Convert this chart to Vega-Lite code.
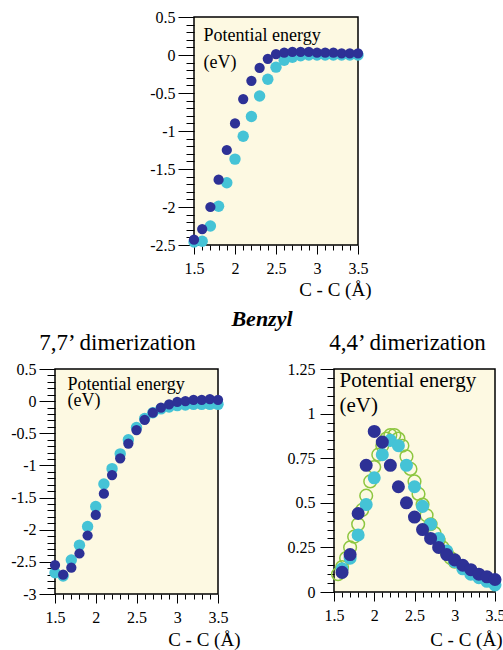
{
  "$schema": "https://vega.github.io/schema/vega-lite/v6.json",
  "padding": {"left": 9, "top": 8, "right": 0, "bottom": 0},
  "background": "white",
  "spacing": 0,
  "config": {
    "font": "Liberation Serif",
    "view": {"stroke": "black", "strokeWidth": 1.5, "fill": "#fdf9e2"},
    "axis": {
      "domain": false,
      "grid": false,
      "tickColor": "black",
      "tickWidth": 1,
      "labelColor": "black",
      "labelFont": "Liberation Serif",
      "labelFontSize": 16,
      "labelOverlap": false,
      "labelBound": false,
      "labelFlush": false,
      "titleColor": "black",
      "titleFont": "Liberation Serif",
      "titleFontWeight": "normal"
    },
    "title": {"font": "Liberation Serif", "color": "black", "fontWeight": "normal", "fontSize": 23}
  },
  "datasets": {
    "top": [
      {"x": 1.5, "y": -2.46, "s": "cyan"}, {"x": 1.6, "y": -2.45, "s": "cyan"}, {"x": 1.7, "y": -2.25, "s": "cyan"},
      {"x": 1.8, "y": -1.99, "s": "cyan"}, {"x": 1.9, "y": -1.68, "s": "cyan"}, {"x": 2.0, "y": -1.37, "s": "cyan"},
      {"x": 2.1, "y": -1.07, "s": "cyan"}, {"x": 2.2, "y": -0.81, "s": "cyan"}, {"x": 2.3, "y": -0.54, "s": "cyan"},
      {"x": 2.4, "y": -0.32, "s": "cyan"}, {"x": 2.5, "y": -0.16, "s": "cyan"}, {"x": 2.6, "y": -0.07, "s": "cyan"},
      {"x": 2.7, "y": -0.03, "s": "cyan"}, {"x": 2.8, "y": -0.01, "s": "cyan"}, {"x": 2.9, "y": 0.0, "s": "cyan"},
      {"x": 3.0, "y": 0.0, "s": "cyan"}, {"x": 3.1, "y": 0.0, "s": "cyan"}, {"x": 3.2, "y": 0.0, "s": "cyan"},
      {"x": 3.3, "y": 0.0, "s": "cyan"}, {"x": 3.4, "y": 0.0, "s": "cyan"}, {"x": 3.5, "y": 0.0, "s": "cyan"},
      {"x": 1.5, "y": -2.43, "s": "dark"}, {"x": 1.6, "y": -2.29, "s": "dark"}, {"x": 1.7, "y": -2.0, "s": "dark"},
      {"x": 1.8, "y": -1.64, "s": "dark"}, {"x": 1.9, "y": -1.25, "s": "dark"}, {"x": 2.0, "y": -0.9, "s": "dark"},
      {"x": 2.1, "y": -0.58, "s": "dark"}, {"x": 2.2, "y": -0.34, "s": "dark"}, {"x": 2.3, "y": -0.17, "s": "dark"},
      {"x": 2.4, "y": -0.05, "s": "dark"}, {"x": 2.5, "y": 0.01, "s": "dark"}, {"x": 2.6, "y": 0.03, "s": "dark"},
      {"x": 2.7, "y": 0.04, "s": "dark"}, {"x": 2.8, "y": 0.04, "s": "dark"}, {"x": 2.9, "y": 0.04, "s": "dark"},
      {"x": 3.0, "y": 0.03, "s": "dark"}, {"x": 3.1, "y": 0.03, "s": "dark"}, {"x": 3.2, "y": 0.03, "s": "dark"},
      {"x": 3.3, "y": 0.02, "s": "dark"}, {"x": 3.4, "y": 0.02, "s": "dark"}, {"x": 3.5, "y": 0.02, "s": "dark"}
    ],
    "left": [
      {"x": 1.5, "y": -2.67, "s": "cyan"}, {"x": 1.6, "y": -2.72, "s": "cyan"}, {"x": 1.7, "y": -2.47, "s": "cyan"},
      {"x": 1.8, "y": -2.24, "s": "cyan"}, {"x": 1.9, "y": -1.95, "s": "cyan"}, {"x": 2.0, "y": -1.64, "s": "cyan"},
      {"x": 2.1, "y": -1.29, "s": "cyan"}, {"x": 2.2, "y": -1.05, "s": "cyan"}, {"x": 2.3, "y": -0.82, "s": "cyan"},
      {"x": 2.4, "y": -0.6, "s": "cyan"}, {"x": 2.5, "y": -0.41, "s": "cyan"}, {"x": 2.6, "y": -0.27, "s": "cyan"},
      {"x": 2.7, "y": -0.18, "s": "cyan"}, {"x": 2.8, "y": -0.12, "s": "cyan"}, {"x": 2.9, "y": -0.09, "s": "cyan"},
      {"x": 3.0, "y": -0.07, "s": "cyan"}, {"x": 3.1, "y": -0.06, "s": "cyan"}, {"x": 3.2, "y": -0.05, "s": "cyan"},
      {"x": 3.3, "y": -0.05, "s": "cyan"}, {"x": 3.4, "y": -0.05, "s": "cyan"}, {"x": 3.5, "y": -0.05, "s": "cyan"},
      {"x": 1.5, "y": -2.55, "s": "dark"}, {"x": 1.6, "y": -2.7, "s": "dark"}, {"x": 1.7, "y": -2.59, "s": "dark"},
      {"x": 1.8, "y": -2.37, "s": "dark"}, {"x": 1.9, "y": -2.09, "s": "dark"}, {"x": 2.0, "y": -1.77, "s": "dark"},
      {"x": 2.1, "y": -1.44, "s": "dark"}, {"x": 2.2, "y": -1.15, "s": "dark"}, {"x": 2.3, "y": -0.89, "s": "dark"},
      {"x": 2.4, "y": -0.66, "s": "dark"}, {"x": 2.5, "y": -0.45, "s": "dark"}, {"x": 2.6, "y": -0.29, "s": "dark"},
      {"x": 2.7, "y": -0.18, "s": "dark"}, {"x": 2.8, "y": -0.1, "s": "dark"}, {"x": 2.9, "y": -0.05, "s": "dark"},
      {"x": 3.0, "y": -0.01, "s": "dark"}, {"x": 3.1, "y": 0.0, "s": "dark"}, {"x": 3.2, "y": 0.02, "s": "dark"},
      {"x": 3.3, "y": 0.02, "s": "dark"}, {"x": 3.4, "y": 0.03, "s": "dark"}, {"x": 3.5, "y": 0.02, "s": "dark"}
    ],
    "right": [
      {"x": 1.55, "y": 0.1, "s": "green"}, {"x": 1.6, "y": 0.14, "s": "green"}, {"x": 1.65, "y": 0.19, "s": "green"},
      {"x": 1.7, "y": 0.25, "s": "green"}, {"x": 1.75, "y": 0.31, "s": "green"}, {"x": 1.8, "y": 0.38, "s": "green"},
      {"x": 1.85, "y": 0.46, "s": "green"}, {"x": 1.9, "y": 0.54, "s": "green"}, {"x": 1.95, "y": 0.62, "s": "green"},
      {"x": 2.0, "y": 0.7, "s": "green"}, {"x": 2.05, "y": 0.77, "s": "green"}, {"x": 2.1, "y": 0.82, "s": "green"},
      {"x": 2.15, "y": 0.86, "s": "green"}, {"x": 2.2, "y": 0.88, "s": "green"}, {"x": 2.25, "y": 0.88, "s": "green"},
      {"x": 2.3, "y": 0.86, "s": "green"}, {"x": 2.35, "y": 0.82, "s": "green"}, {"x": 2.4, "y": 0.76, "s": "green"},
      {"x": 2.45, "y": 0.69, "s": "green"}, {"x": 2.5, "y": 0.62, "s": "green"}, {"x": 2.55, "y": 0.55, "s": "green"},
      {"x": 2.6, "y": 0.49, "s": "green"}, {"x": 2.65, "y": 0.43, "s": "green"}, {"x": 2.7, "y": 0.38, "s": "green"},
      {"x": 2.75, "y": 0.33, "s": "green"}, {"x": 2.8, "y": 0.29, "s": "green"}, {"x": 2.85, "y": 0.25, "s": "green"},
      {"x": 2.9, "y": 0.22, "s": "green"}, {"x": 2.95, "y": 0.19, "s": "green"}, {"x": 3.0, "y": 0.17, "s": "green"},
      {"x": 1.6, "y": 0.13, "s": "cyan"}, {"x": 1.7, "y": 0.19, "s": "cyan"}, {"x": 1.8, "y": 0.32, "s": "cyan"},
      {"x": 1.9, "y": 0.49, "s": "cyan"}, {"x": 2.0, "y": 0.64, "s": "cyan"}, {"x": 2.1, "y": 0.77, "s": "cyan"},
      {"x": 2.2, "y": 0.85, "s": "cyan"}, {"x": 2.3, "y": 0.82, "s": "cyan"}, {"x": 2.4, "y": 0.71, "s": "cyan"},
      {"x": 2.5, "y": 0.59, "s": "cyan"}, {"x": 2.6, "y": 0.48, "s": "cyan"}, {"x": 2.7, "y": 0.38, "s": "cyan"},
      {"x": 2.8, "y": 0.3, "s": "cyan"}, {"x": 2.9, "y": 0.23, "s": "cyan"}, {"x": 3.0, "y": 0.17, "s": "cyan"},
      {"x": 3.1, "y": 0.13, "s": "cyan"}, {"x": 3.2, "y": 0.1, "s": "cyan"}, {"x": 3.3, "y": 0.08, "s": "cyan"},
      {"x": 3.4, "y": 0.06, "s": "cyan"}, {"x": 3.5, "y": 0.04, "s": "cyan"},
      {"x": 1.6, "y": 0.11, "s": "dark"}, {"x": 1.7, "y": 0.21, "s": "dark"}, {"x": 1.8, "y": 0.44, "s": "dark"},
      {"x": 1.9, "y": 0.71, "s": "dark"}, {"x": 2.0, "y": 0.9, "s": "dark"}, {"x": 2.1, "y": 0.84, "s": "dark"},
      {"x": 2.2, "y": 0.71, "s": "dark"}, {"x": 2.3, "y": 0.59, "s": "dark"}, {"x": 2.4, "y": 0.5, "s": "dark"},
      {"x": 2.5, "y": 0.42, "s": "dark"}, {"x": 2.6, "y": 0.35, "s": "dark"}, {"x": 2.7, "y": 0.3, "s": "dark"},
      {"x": 2.8, "y": 0.25, "s": "dark"}, {"x": 2.9, "y": 0.21, "s": "dark"}, {"x": 3.0, "y": 0.18, "s": "dark"},
      {"x": 3.1, "y": 0.15, "s": "dark"}, {"x": 3.2, "y": 0.125, "s": "dark"}, {"x": 3.3, "y": 0.1, "s": "dark"},
      {"x": 3.4, "y": 0.085, "s": "dark"}, {"x": 3.5, "y": 0.07, "s": "dark"}
    ],
    "spacer": [{"k": 1}]
  },
  "vconcat": [
    {
      "bounds": "flush",
      "spacing": 0,
      "hconcat": [
        {
          "data": {"name": "spacer"},
          "width": 139,
          "height": 10,
          "view": {"stroke": null, "fill": null},
          "mark": {"type": "point", "opacity": 0},
          "encoding": {}
        },
        {
          "data": {"name": "top"},
          "width": 164,
          "height": 228,
          "title": {"text": "Benzyl", "orient": "bottom", "fontWeight": "bold", "fontStyle": "italic", "fontSize": 22, "offset": 10, "dx": -14},
          "mark": {"type": "circle", "opacity": 1},
          "encoding": {
            "x": {"field": "x", "type": "quantitative", "scale": {"domain": [1.5, 3.5], "nice": false, "zero": false},
              "axis": {"values": [1.5,1.6,1.7,1.8,1.9,2,2.1,2.2,2.3,2.4,2.5,2.6,2.7,2.8,2.9,3,3.1,3.2,3.3,3.4,3.5],
                "labelExpr": "abs(datum.value*2 - round(datum.value*2)) < 1e-6 ? '' + datum.value : ''",
                "tickSize": {"condition": {"test": "abs(datum.value*2 - round(datum.value*2)) < 1e-6", "value": 9}, "value": 5},
                "labelPadding": 6,
                "title": "C - C (Å)", "titleFontSize": 19, "titleAlign": "right", "titleAnchor": "end", "titleBaseline": "alphabetic", "titleX": 177, "titleY": 50}},
            "y": {"field": "y", "type": "quantitative", "scale": {"domain": [-2.5, 0.5], "nice": false, "zero": false},
              "axis": {"values": [-2.5,-2.4,-2.3,-2.2,-2.1,-2,-1.9,-1.8,-1.7,-1.6,-1.5,-1.4,-1.3,-1.2,-1.1,-1,-0.9,-0.8,-0.7,-0.6,-0.5,-0.4,-0.3,-0.2,-0.1,0,0.1,0.2,0.3,0.4,0.5],
                "labelExpr": "abs(datum.value*2 - round(datum.value*2)) < 1e-6 ? '' + datum.value : ''",
                "tickSize": {"condition": {"test": "abs(datum.value*2 - round(datum.value*2)) < 1e-6", "value": 16}, "value": 8},
                "labelPadding": 3,
                "title": ["Potential energy", "(eV)"], "titleFontSize": 18, "titleAngle": 0, "titleAlign": "left", "titleBaseline": "alphabetic", "titleX": 9, "titleY": 23, "titleLineHeight": 27}},
            "color": {"field": "s", "type": "nominal", "scale": {"domain": ["cyan", "dark"], "range": ["#45c3d6", "#2d3196"]}, "legend": null},
            "size": {"field": "s", "type": "nominal", "scale": {"domain": ["cyan", "dark"], "range": [130, 105]}, "legend": null}
          }
        }
      ]
    },
    {
      "bounds": "flush",
      "spacing": 116,
      "hconcat": [
        {
          "data": {"name": "left"},
          "width": 163,
          "height": 225,
          "title": {"text": "7,7’ dimerization", "dx": -19, "offset": 6},
          "mark": {"type": "circle", "opacity": 1},
          "encoding": {
            "x": {"field": "x", "type": "quantitative", "scale": {"domain": [1.5, 3.5], "nice": false, "zero": false},
              "axis": {"values": [1.5,1.6,1.7,1.8,1.9,2,2.1,2.2,2.3,2.4,2.5,2.6,2.7,2.8,2.9,3,3.1,3.2,3.3,3.4,3.5],
                "labelExpr": "abs(datum.value*2 - round(datum.value*2)) < 1e-6 ? '' + datum.value : ''",
                "tickSize": {"condition": {"test": "abs(datum.value*2 - round(datum.value*2)) < 1e-6", "value": 9}, "value": 5},
                "labelPadding": 6,
                "title": "C - C (Å)", "titleFontSize": 19, "titleAlign": "right", "titleAnchor": "end", "titleBaseline": "alphabetic", "titleX": 185, "titleY": 51}},
            "y": {"field": "y", "type": "quantitative", "scale": {"domain": [-3, 0.5], "nice": false, "zero": false},
              "axis": {"values": [-3,-2.9,-2.8,-2.7,-2.6,-2.5,-2.4,-2.3,-2.2,-2.1,-2,-1.9,-1.8,-1.7,-1.6,-1.5,-1.4,-1.3,-1.2,-1.1,-1,-0.9,-0.8,-0.7,-0.6,-0.5,-0.4,-0.3,-0.2,-0.1,0,0.1,0.2,0.3,0.4,0.5],
                "labelExpr": "abs(datum.value*2 - round(datum.value*2)) < 1e-6 ? '' + datum.value : ''",
                "tickSize": {"condition": {"test": "abs(datum.value*2 - round(datum.value*2)) < 1e-6", "value": 16}, "value": 8},
                "labelPadding": 3,
                "title": ["Potential energy", "(eV)"], "titleFontSize": 18, "titleAngle": 0, "titleAlign": "left", "titleBaseline": "alphabetic", "titleX": 12, "titleY": 20, "titleLineHeight": 16}},
            "color": {"field": "s", "type": "nominal", "scale": {"domain": ["cyan", "dark"], "range": ["#45c3d6", "#2d3196"]}, "legend": null},
            "size": {"field": "s", "type": "nominal", "scale": {"domain": ["cyan", "dark"], "range": [150, 125]}, "legend": null}
          }
        },
        {
          "data": {"name": "right"},
          "width": 161,
          "height": 223,
          "title": {"text": "4,4’ dimerization", "dx": -7, "offset": 6},
          "encoding": {
            "x": {"field": "x", "type": "quantitative", "scale": {"domain": [1.5, 3.5], "nice": false, "zero": false},
              "axis": {"values": [1.5,1.6,1.7,1.8,1.9,2,2.1,2.2,2.3,2.4,2.5,2.6,2.7,2.8,2.9,3,3.1,3.2,3.3,3.4,3.5],
                "labelExpr": "abs(datum.value*2 - round(datum.value*2)) < 1e-6 ? '' + datum.value : ''",
                "tickSize": {"condition": {"test": "abs(datum.value*2 - round(datum.value*2)) < 1e-6", "value": 9}, "value": 5},
                "labelPadding": 6,
                "title": "C - C (Å)", "titleFontSize": 19, "titleAlign": "right", "titleAnchor": "end", "titleBaseline": "alphabetic", "titleX": 168, "titleY": 53}},
            "y": {"field": "y", "type": "quantitative", "scale": {"domain": [0, 1.25], "nice": false, "zero": false},
              "axis": {"values": [0,0.05,0.1,0.15,0.2,0.25,0.3,0.35,0.4,0.45,0.5,0.55,0.6,0.65,0.7,0.75,0.8,0.85,0.9,0.95,1,1.05,1.1,1.15,1.2,1.25],
                "labelExpr": "abs(datum.value*4 - round(datum.value*4)) < 1e-6 ? '' + datum.value : ''",
                "tickSize": {"condition": {"test": "abs(datum.value*4 - round(datum.value*4)) < 1e-6", "value": 14}, "value": 7},
                "labelPadding": 5,
                "title": ["Potential energy", "(eV)"], "titleFontSize": 21, "titleAngle": 0, "titleAlign": "left", "titleBaseline": "alphabetic", "titleX": 5, "titleY": 17, "titleLineHeight": 25}}
          },
          "layer": [
            {
              "transform": [{"filter": "datum.s == 'green'"}],
              "mark": {"type": "point", "shape": "circle", "filled": false, "strokeWidth": 1.5, "color": "#8dc63f", "size": 160, "opacity": 1}
            },
            {
              "transform": [{"filter": "datum.s != 'green'"}],
              "mark": {"type": "circle", "opacity": 1},
              "encoding": {
                "color": {"field": "s", "type": "nominal", "scale": {"domain": ["cyan", "dark"], "range": ["#45c3d6", "#2d3196"]}, "legend": null},
                "size": {"value": 170}
              }
            }
          ]
        }
      ]
    }
  ]
}
